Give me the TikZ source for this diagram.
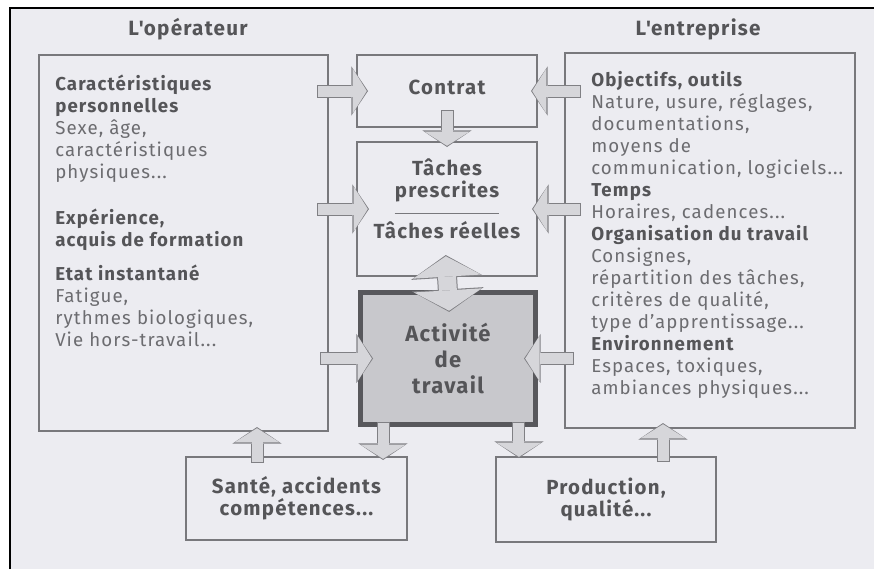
\documentclass[tikz,border=0pt]{standalone}
\usepackage{fontspec}
\setmainfont{Fira Sans}[LetterSpace=6]
\usetikzlibrary{arrows.meta}

\definecolor{page}{RGB}{236,236,241}
\definecolor{boxline}{RGB}{120,120,124}
\definecolor{arrline}{RGB}{128,128,132}
\definecolor{arrfill}{RGB}{214,214,218}
\definecolor{actfill}{RGB}{200,200,204}
\definecolor{actline}{RGB}{88,88,92}
\definecolor{txtdark}{RGB}{85,85,88}
\definecolor{txtlight}{RGB}{108,108,112}

\newcommand{\hd}[1]{{\bfseries\color{txtdark}#1}}

\tikzset{
  blkout/.style 2 args={draw=arrline, line width=9.75pt,
    -{Triangle[width=37pt 0 0, length=12.5pt 0 0, line width=0pt 0 0]},
    shorten <={-#1*1pt}, shorten >={-#2*1pt}},
  blkin/.style 2 args={draw=arrfill, line width=8.25pt,
    -{Triangle[width=34pt 0 0, length=10.7pt 0 0, line width=0pt 0 0]},
    shorten <={(0.75-#1)*1pt}, shorten >={(0.9-#2)*1pt}},
  dblout/.style={draw=arrline, line width=15pt,
    {Triangle[width=54pt 0 0, length=17pt 0 0, line width=0pt 0 0]}-{Triangle[width=54pt 0 0, length=17pt 0 0, line width=0pt 0 0]},
    shorten <=-15.75pt, shorten >=-14.6pt},
  dblin/.style={draw=arrfill, line width=13.5pt,
    {Triangle[width=51pt 0 0, length=15.3pt 0 0, line width=0pt 0 0]}-{Triangle[width=51pt 0 0, length=15.3pt 0 0, line width=0pt 0 0]},
    shorten <=-14.85pt, shorten >=-13.7pt}
}

% block arrow: outline first, then the light inside
\newcommand{\blkarrow}[4]{%
  \draw[blkout={#3}{#4}] #1 -- #2;
  \draw[blkin={#3}{#4}] #1 -- #2;}

\begin{document}
\begin{tikzpicture}[x=0.75pt,y=-0.75pt,
    box/.style={draw=boxline, line width=1.1pt, outer sep=0pt, inner sep=0pt},
    body/.style={anchor=north west, align=left, inner sep=0pt, text=txtlight,
      font=\fontsize{14}{16.5}\selectfont},
    ttl/.style={anchor=base, inner sep=0pt, text=txtdark,
      font=\fontsize{15.5}{18}\selectfont\bfseries},
    big/.style={align=center, text=txtdark,
      font=\fontsize{15.3}{16.5}\selectfont\bfseries}]

  \useasboundingbox (0,0) rectangle (874,569);
  \fill[white] (0,0) rectangle (874,569);
  \fill[page] (10,8) rectangle (874,569);
  \draw[line width=1.5pt] (10,569) -- (10,8) -- (874,8);

  % titles
  \node[ttl] (opttl) at (188,35) {L\textquotesingle opérateur};
  \node[ttl] (entttl) at (698,35) {L\textquotesingle entreprise};

  % boxes
  \node[box, minimum width=216.75pt, minimum height=282pt] (op) at (183.5,243) {};
  \node[box, minimum width=217.5pt, minimum height=281.25pt] (ent) at (710,240.5) {};
  \node[box, big, minimum width=135pt, minimum height=54pt, text depth=5pt] (contrat) at (447,91) {Contrat};
  \node[box, minimum width=135pt, minimum height=100.5pt] (taches) at (447,209) {};
  \node[box, big, draw=actline, fill=actfill, line width=3.75pt,
        minimum width=131.25pt, minimum height=99pt,
        font=\fontsize{16.5}{19.5}\selectfont\bfseries] (act) at (448,358.5) {Activité\\de\\travail};
  \node[box, big, minimum width=165.75pt, minimum height=62.25pt] (sante) at (296.5,498.5) {Santé, accidents\\compétences...};
  \node[box, big, minimum width=165pt, minimum height=63.75pt] (prod) at (606,499.5) {Production,\\qualité...};

  % texts
  \node[big, inner sep=0pt] (presc) at (447,180) {Tâches\\prescrites};
  \node[big, inner sep=0pt] (reel) at (447,230) {Tâches réelles};
  \draw[boxline, line width=0.6pt] ([yshift=-8.25pt]presc.south west) -- ([yshift=-8.25pt]presc.south east);

  \node[body] (optxt) at (55,75) {\hd{Caractéristiques}\\ \hd{personnelles}\\
    Sexe, âge,\\ caractéristiques\\ physiques...\\[18pt]
    \hd{Expérience,}\\ \hd{acquis de formation}\\[9pt]
    \hd{Etat instantané}\\ Fatigue,\\ rythmes biologiques,\\ Vie hors-travail...};
  \node[body] (enttxt) at (591,71) {\hd{Objectifs, outils}\\ Nature, usure, réglages,\\
    documentations,\\ moyens de\\ communication, logiciels...\\
    \hd{Temps}\\ Horaires, cadences...\\
    \hd{Organisation du travail}\\ Consignes,\\ répartition des tâches,\\
    critères de qualité,\\ type d'apprentissage...\\
    \hd{Environnement}\\ Espaces, toxiques,\\ ambiances physiques...};

  % arrows
  \coordinate (d1) at ([xshift=16.9pt]act.south west);
  \coordinate (d2) at ([xshift=-12.4pt]act.south east);
  \coordinate (u1) at ([xshift=53.25pt]sante.north west);
  \coordinate (u2) at ([xshift=125.25pt]prod.north west);

  \foreach \n/\st/\en in {contrat/8.25/8.25, taches/8.25/9, act/6/9.4}
    \blkarrow{(op.east |- \n)}{(\n.west)}{\st}{\en};
  \foreach \n/\st/\en in {contrat/12/4.5, taches/12/3.75, act/6.75/8.6}
    \blkarrow{(ent.west |- \n)}{(\n.east)}{\st}{\en};
  \foreach \from/\to/\st/\en in {contrat.south/taches.north/12.75/3.75,
      d1/sante.north/1.9/2.25, d2/prod.north/1.9/0.75,
      u1/op.south/4.5/3, u2/ent.south/3.75/3.75}
    \blkarrow{(\from)}{(\from |- \to)}{\st}{\en};

  \draw[dblout] (taches.south) -- (act.north);
  \draw[dblin] (taches.south) -- (act.north);
\end{tikzpicture}
\end{document}
